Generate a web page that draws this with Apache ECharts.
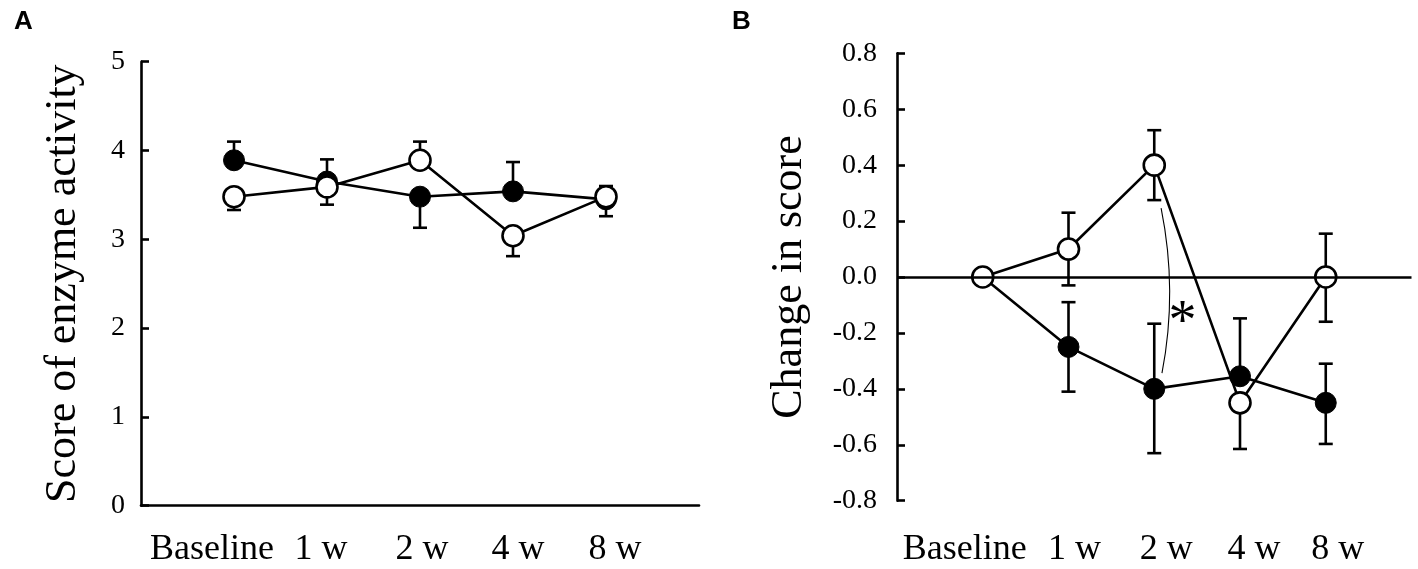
<!DOCTYPE html>
<html>
<head>
<meta charset="utf-8">
<script src="https://cdn.jsdelivr.net/npm/echarts@6/dist/echarts.min.js"></script>
<style>
  html, body { margin: 0; padding: 0; background: #fff; }
  #chart { width: 1418px; height: 569px; }
</style>
</head>
<body>
<div id="chart"></div>
<script>
const categories = ['Baseline', '1 w', '2 w', '4 w', '8 w'];

// Panel A: score of enzyme activity (filled / open circles, one-sided error bars)
const scoreFilled = [3.89, 3.65, 3.48, 3.54, 3.45];
const scoreFilledUp = [4.10, 3.90, null, 3.87, 3.60];
const scoreFilledDown = [null, null, 3.13, null, null];
const scoreOpen = [3.48, 3.59, 3.89, 3.04, 3.48];
const scoreOpenUp = [null, null, 4.10, null, null];
const scoreOpenDown = [3.33, 3.39, null, 2.81, 3.26];

// Panel B: change in score
const changeFilled = [0, -0.25, -0.40, -0.355, -0.45];
const changeFilledUp = [null, -0.09, -0.167, -0.148, -0.31];
const changeFilledDown = [null, -0.41, -0.63, null, -0.597];
const changeOpen = [0, 0.10, 0.40, -0.45, 0];
const changeOpenUp = [null, 0.23, 0.525, null, 0.155];
const changeOpenDown = [null, -0.03, 0.275, -0.615, -0.16];

// significance bracket at 2 w: start, bulge, end ; and the star
const bracketPoints = [[2.08, 0.246], [2.18, -0.05], [2.09, -0.344]];
const starPoint = [2.33, -0.17];

// label shifts (px) so the category texts sit as in the figure
const labelShiftA = [-22, -6, 2, 5, 9];
const labelShiftB = [-18, 6, 12, 14, 12];

const serif = '"Liberation Serif", "Times New Roman", serif';
const black = '#000';

function errData(mean, ends) {
  const out = [];
  ends.forEach((e, i) => {
    if (e !== null) out.push([i, mean[i], e]);
  });
  return out;
}

function errorItem(params, api) {
  const p0 = api.coord([api.value(0), api.value(1)]);
  const p1 = api.coord([api.value(0), api.value(2)]);
  const half = 7;
  const st = { stroke: black, lineWidth: 2.6 };
  return {
    type: 'group',
    children: [
      { type: 'line', shape: { x1: p0[0], y1: p0[1], x2: p1[0], y2: p1[1] }, style: st },
      { type: 'line', shape: { x1: p1[0] - half, y1: p1[1], x2: p1[0] + half, y2: p1[1] }, style: st }
    ]
  };
}

function bracketItem(params, api) {
  const a = api.coord([api.value(0), api.value(1)]);
  const m = api.coord([api.value(2), api.value(3)]);
  const b = api.coord([api.value(4), api.value(5)]);
  // quadratic curve through the bulge point
  const cx = 2 * m[0] - (a[0] + b[0]) / 2;
  const cy = 2 * m[1] - (a[1] + b[1]) / 2;
  return {
    type: 'bezierCurve',
    shape: { x1: a[0], y1: a[1], x2: b[0], y2: b[1], cpx1: cx, cpy1: cy },
    style: { stroke: black, lineWidth: 1.1, fill: null }
  };
}

function starItem(params, api) {
  const p = api.coord([api.value(0), api.value(1)]);
  return {
    type: 'text',
    x: p[0],
    y: p[1],
    style: { text: '*', fontSize: 56, fontFamily: serif, fill: black, align: 'center', verticalAlign: 'middle' }
  };
}

function richFor(shifts) {
  const rich = {};
  shifts.forEach((d, i) => {
    rich['c' + i] = {
      fontFamily: serif,
      fontSize: 36,
      color: black,
      padding: d < 0 ? [0, -2 * d, 0, 0] : [0, 0, 0, 2 * d]
    };
  });
  return rich;
}

function catLabel(v) {
  const i = Math.round(v);
  if (Math.abs(v - i) > 1e-6 || i < 0 || i >= categories.length) return '';
  return '{c' + i + '|' + categories[i] + '}';
}

function xAxisFor(grid, shifts, showLine, margin) {
  return {
    type: 'value',
    gridIndex: grid,
    min: -1,
    max: 5,
    interval: 1,
    axisLine: { show: showLine, onZero: false, lineStyle: { color: black, width: 2.6 } },
    axisTick: { show: false },
    splitLine: { show: false },
    axisLabel: { formatter: catLabel, margin: margin, rich: richFor(shifts), fontFamily: serif, fontSize: 36, color: black }
  };
}

function yAxisFor(grid, min, max, interval, name, gap, fmt, labelMargin) {
  return {
    type: 'value',
    gridIndex: grid,
    min: min,
    max: max,
    interval: interval,
    name: name,
    nameLocation: 'middle',
    nameGap: gap,
    nameTextStyle: { fontFamily: serif, fontSize: 44, color: black },
    axisLine: { show: true, onZero: false, lineStyle: { color: black, width: 2.6 } },
    axisTick: { show: true, inside: true, length: 8, lineStyle: { color: black, width: 2.6 } },
    splitLine: { show: false },
    axisLabel: { formatter: fmt, margin: labelMargin, fontFamily: serif, fontSize: 28, color: black }
  };
}

function lineSeries(axis, data, open) {
  return {
    type: 'line',
    xAxisIndex: axis,
    yAxisIndex: axis,
    data: data.map((v, i) => [i, v]),
    symbol: 'circle',
    symbolSize: 21,
    z: open ? 4 : 3,
    lineStyle: { color: black, width: 2.6 },
    itemStyle: open
      ? { color: '#fff', borderColor: black, borderWidth: 2.6 }
      : { color: black, borderColor: black, borderWidth: 1 },
    emphasis: { disabled: true },
    silent: true
  };
}

function errSeries(axis, mean, ends, extra) {
  return Object.assign({
    type: 'custom',
    xAxisIndex: axis,
    yAxisIndex: axis,
    renderItem: errorItem,
    data: errData(mean, ends),
    encode: { x: 0, y: [1, 2] },
    z: 2,
    silent: true
  }, extra || {});
}

const chart = echarts.init(document.getElementById('chart'));

chart.setOption({
  backgroundColor: '#fff',
  animation: false,
  graphic: [
    { type: 'text', left: 14, top: 9, style: { text: 'A', font: 'bold 26px "Liberation Sans", Arial, sans-serif', fill: black } },
    { type: 'text', left: 732, top: 9, style: { text: 'B', font: 'bold 26px "Liberation Sans", Arial, sans-serif', fill: black } }
  ],
  grid: [
    { left: 141, top: 61.7, width: 558, height: 444 },
    { left: 897, top: 53.3, width: 514.5, height: 447.4 }
  ],
  xAxis: [
    xAxisFor(0, labelShiftA, true, 26),
    xAxisFor(1, labelShiftB, false, 31)
  ],
  yAxis: [
    yAxisFor(0, 0, 5, 1, 'Score of enzyme activity', 56, v => String(v), 16),
    yAxisFor(1, -0.8, 0.8, 0.2, 'Change in score', 86, v => {
      const s = v.toFixed(1);
      return s === '-0.0' ? '0.0' : s;
    }, 20)
  ],
  series: [
    errSeries(0, scoreFilled, scoreFilledUp),
    errSeries(0, scoreFilled, scoreFilledDown),
    errSeries(0, scoreOpen, scoreOpenUp),
    errSeries(0, scoreOpen, scoreOpenDown),
    lineSeries(0, scoreFilled, false),
    lineSeries(0, scoreOpen, true),

    errSeries(1, changeFilled, changeFilledUp, {
      markLine: {
        silent: true,
        symbol: 'none',
        label: { show: false },
        lineStyle: { color: black, width: 2.6, type: 'solid' },
        data: [{ yAxis: 0 }]
      }
    }),
    errSeries(1, changeFilled, changeFilledDown),
    errSeries(1, changeOpen, changeOpenUp),
    errSeries(1, changeOpen, changeOpenDown),
    lineSeries(1, changeFilled, false),
    lineSeries(1, changeOpen, true),
    {
      type: 'custom',
      xAxisIndex: 1,
      yAxisIndex: 1,
      renderItem: bracketItem,
      data: [bracketPoints[0].concat(bracketPoints[1], bracketPoints[2])],
      encode: { x: [0, 2, 4], y: [1, 3, 5] },
      z: 2,
      silent: true
    },
    {
      type: 'custom',
      xAxisIndex: 1,
      yAxisIndex: 1,
      renderItem: starItem,
      data: [starPoint],
      encode: { x: 0, y: 1 },
      z: 5,
      silent: true
    }
  ]
});
</script>
</body>
</html>
